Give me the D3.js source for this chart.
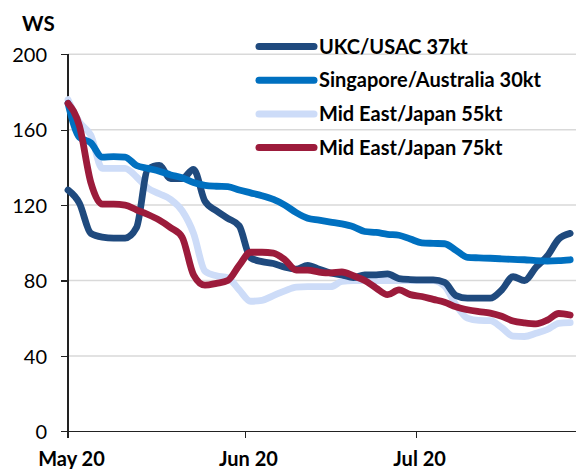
<!DOCTYPE html>
<html>
<head>
<meta charset="utf-8">
<script src="https://cdn.jsdelivr.net/npm/d3@7"></script>
<style>
  body { margin: 0; background: #fff; }
  svg { display: block; font-family: Lato, 'Open Sans', sans-serif; }
  .grid line { stroke: #d9d9d9; stroke-width: 1.5; }
  .axis path, .axis line { stroke: #222; stroke-width: 1.3; shape-rendering: crispEdges; }
  .line { fill: none; stroke-width: 6.8; stroke-linejoin: round; stroke-linecap: round; }
</style>
</head>
<body>
<svg id="chart" width="576" height="469"></svg>
<script>
// dates every 2 days, 1 May 2020 - 28 Jul 2020
var dates = d3.timeDay.range(new Date(2020, 4, 1), new Date(2020, 6, 29), 2);

var ukcUsac = [128, 121, 105, 103, 102.5, 102.5, 108, 139, 141, 134,
  134, 139, 122, 117, 113, 109, 92, 90, 89, 87,
  86, 88, 86, 84, 83, 81.5, 83, 83, 83.5, 81,
  80.5, 80.3, 80.3, 79, 72, 70.6, 70.6, 70.6, 75, 82,
  80, 87, 93, 102, 105];

var singAus = [174, 156, 153, 145.5, 145.7, 145.5, 141, 139.5, 138, 136,
  134.5, 132, 130.5, 130, 129.8, 128, 126.5, 125, 123, 120,
  116, 113, 112, 111, 110, 108.5, 106, 105.5, 104.5, 104,
  102, 100, 99.7, 99.5, 96, 92.3, 92, 91.8, 91.5, 91.2,
  91, 90.5, 90.3, 90.5, 91];

var meJapan55 = [176, 164, 157, 139.5, 139.5, 139.5, 135, 129, 126, 123,
  117, 105, 85, 82.5, 81.5, 75, 69, 69.5, 72, 74.5,
  76.5, 76.7, 76.7, 76.7, 79.5, 80, 80, 80, 80, 80,
  80, 80, 80, 77, 67, 60, 58.8, 58.7, 55, 50.5,
  50.3, 52, 54, 57.3, 57.6];

var meJapan75 = [174, 162, 132, 120.5, 120.5, 120, 117.5, 115, 112, 108,
  103, 83, 77.5, 78.5, 80, 88, 95, 95, 94.5, 91,
  85.5, 85.5, 84.5, 84, 84.5, 82.5, 80, 76, 72.5, 75,
  72.5, 71.5, 70, 68.5, 66, 64.5, 63.5, 62.7, 61, 58.5,
  57.5, 57, 59, 62.5, 61.7];

var seriesNames = ['UKC/USAC 37kt', 'Singapore/Australia 30kt', 'Mid East/Japan 55kt', 'Mid East/Japan 75kt'];
var seriesColors = ['#1f4a7e', '#0070c0', '#cddcf8', '#9c1b3b'];
var seriesValues = [ukcUsac, singAus, meJapan55, meJapan75];
// draw order bottom -> top
var drawOrder = [2, 0, 1, 3];

var yTicks = [0, 40, 80, 120, 160, 200];
var xTicks = [new Date(2020, 4, 1), new Date(2020, 5, 1), new Date(2020, 6, 1)];
var xTickLabels = ['May 20', 'Jun 20', 'Jul 20'];

var svg = d3.select('#chart');
var width = +svg.attr('width');

var x = d3.scaleTime()
  .domain([new Date(2020, 4, 1), new Date(2020, 7, 1)])
  .range([68, 593]);
var y = d3.scaleLinear()
  .domain([0, 200])
  .range([431.3, 54.3]);

// gridlines
svg.append('g')
  .attr('class', 'grid')
  .selectAll('line')
  .data(yTicks.filter(function(d) { return d > 0; }))
  .enter().append('line')
  .attr('x1', x.range()[0])
  .attr('x2', width)
  .attr('y1', y)
  .attr('y2', y);

// y axis
var yAxis = svg.append('g')
  .attr('class', 'axis axis--y')
  .attr('transform', 'translate(68,0)')
  .call(d3.axisLeft(y).tickValues(yTicks).tickSize(7).tickSizeOuter(0).tickFormat(d3.format('d')));
yAxis.select('.domain').attr('d', 'M0,' + y(200) + 'V' + (y(0) + 7));
yAxis.selectAll('text')
  .attr('x', -21)
  .attr('dy', '0.36em')
  .attr('fill', '#000')
  .attr('font-size', 20)
  .attr('font-family', 'Lato');

// x axis
var xAxis = svg.append('g')
  .attr('class', 'axis axis--x')
  .attr('transform', 'translate(0,' + y(0) + ')')
  .call(d3.axisBottom(x).tickValues(xTicks).tickSize(7).tickSizeOuter(0)
    .tickFormat(function(d, i) { return xTickLabels[i]; }));
xAxis.select('.domain').attr('d', 'M' + x.range()[0] + ',0H' + width);
xAxis.selectAll('text')
  .attr('y', 35)
  .attr('dy', 0)
  .attr('dx', 3)
  .attr('fill', '#000')
  .attr('font-size', 20)
  .attr('font-weight', 'bold')
  .attr('font-family', 'Lato');

// unit label
svg.append('text')
  .attr('x', 22)
  .attr('y', 31)
  .attr('font-size', 20.5)
  .attr('font-weight', 'bold')
  .attr('fill', '#000')
  .text('WS');

// lines
var line = d3.line()
  .x(function(d, i) { return x(dates[i]); })
  .y(function(d) { return y(d); })
  .curve(d3.curveMonotoneX);

svg.append('g')
  .selectAll('path')
  .data(drawOrder)
  .enter().append('path')
  .attr('class', 'line')
  .attr('stroke', function(k) { return seriesColors[k]; })
  .attr('d', function(k) { return line(seriesValues[k]); });

// legend
var legend = svg.append('g')
  .selectAll('g')
  .data(seriesNames)
  .enter().append('g')
  .attr('transform', function(d, i) { return 'translate(259,' + (46.5 + i * 33.7) + ')'; });

legend.append('line')
  .attr('x1', 0)
  .attr('x2', 55)
  .attr('stroke', function(d, i) { return seriesColors[i]; })
  .attr('stroke-width', 7)
  .attr('stroke-linecap', 'round');

legend.append('text')
  .attr('x', 60)
  .attr('dy', '0.36em')
  .attr('font-size', 20)
  .attr('font-weight', 'bold')
  .attr('fill', '#000')
  .text(function(d) { return d; });
</script>
</body>
</html>
